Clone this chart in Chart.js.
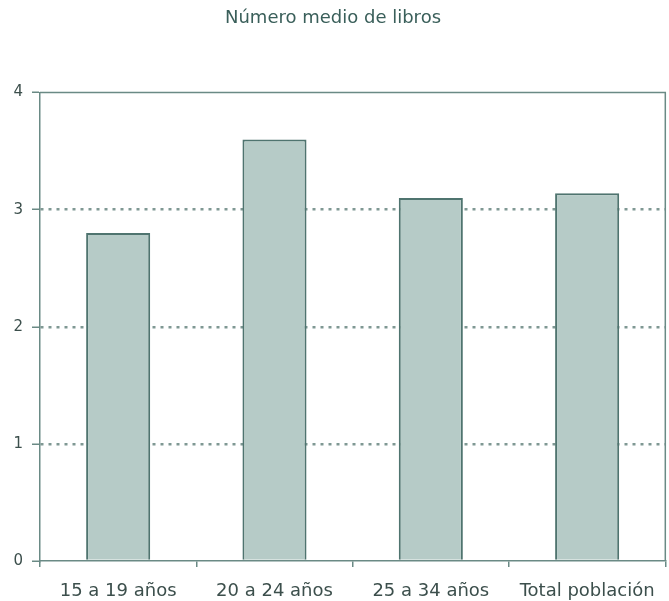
<!DOCTYPE html>
<html>
<head>
<meta charset="utf-8">
<script src="https://cdn.jsdelivr.net/npm/chart.js@4/dist/chart.umd.min.js"></script>
<style>
  html, body { margin: 0; padding: 0; background: #ffffff; }
  #wrap { width: 669px; height: 601px; }
</style>
</head>
<body>
<div id="wrap"><canvas id="chart"></canvas></div>
<script>
// average number of books by age group
const categories = ['15 a 19 años', '20 a 24 años', '25 a 34 años', 'Total población'];
const books = [2.8, 3.6, 3.1, 3.14];
const yTicks = [0, 1, 2, 3, 4];

const axisColor = '#6a8a85';
const textColor = '#3c4f4c';

// box around the plot area (top and right sides)
const frame = {
    id: 'frame',
    beforeDatasetsDraw(chart) {
        const a = chart.chartArea;
        const ctx = chart.ctx;
        ctx.save();
        ctx.strokeStyle = axisColor;
        ctx.lineWidth = 1.5;
        ctx.beginPath();
        ctx.moveTo(a.left, a.top);
        ctx.lineTo(a.right, a.top);
        ctx.lineTo(a.right, a.bottom);
        ctx.stroke();
        ctx.restore();
    }
};

new Chart(document.getElementById('chart'), {
    type: 'bar',
    data: {
        labels: categories,
        datasets: [{
            label: 'Número medio de libros',
            data: books,
            backgroundColor: '#b6cbc7',
            borderColor: '#4f746f',
            borderWidth: 2,
            barPercentage: 0.41,
            categoryPercentage: 1
        }]
    },
    options: {
        responsive: true,
        maintainAspectRatio: false,
        animation: false,
        layout: { padding: { left: 0, right: 3, top: 0, bottom: 0 } },
        plugins: {
            legend: { display: false },
            tooltip: { enabled: false },
            title: {
                display: true,
                text: 'Número medio de libros',
                color: '#3a5f5a',
                font: { family: 'DejaVu Sans', size: 18, weight: 'normal' },
                padding: { top: 8, bottom: 63 }
            }
        },
        scales: {
            x: {
                afterFit(scale) { scale.height = 40; },
                grid: {
                    offset: true,
                    drawOnChartArea: false,
                    drawTicks: true,
                    tickLength: 6,
                    color: axisColor,
                    lineWidth: 1.5
                },
                border: { color: axisColor, width: 1.5 },
                ticks: {
                    color: textColor,
                    padding: 14,
                    font: { family: 'DejaVu Sans', size: 18 }
                }
            },
            y: {
                min: 0,
                max: 4,
                afterFit(scale) { scale.width = 40; },
                afterBuildTicks(scale) {
                    scale.ticks = yTicks.map(v => ({ value: v }));
                },
                grid: {
                    drawTicks: true,
                    tickLength: 8,
                    tickColor: axisColor,
                    tickWidth: 1.5,
                    tickBorderDash: [],
                    color: ctx => (ctx.tick && (ctx.tick.value === 0 || ctx.tick.value === 4)) ? 'rgba(0,0,0,0)' : '#7f9893',
                    lineWidth: 2.5
                },
                // dotted gridlines
                border: { color: axisColor, width: 1.5, dash: [3, 5] },
                ticks: {
                    color: textColor,
                    padding: 9,
                    font: { family: 'DejaVu Sans', size: 15 }
                }
            }
        }
    },
    plugins: [frame]
});
</script>
</body>
</html>
